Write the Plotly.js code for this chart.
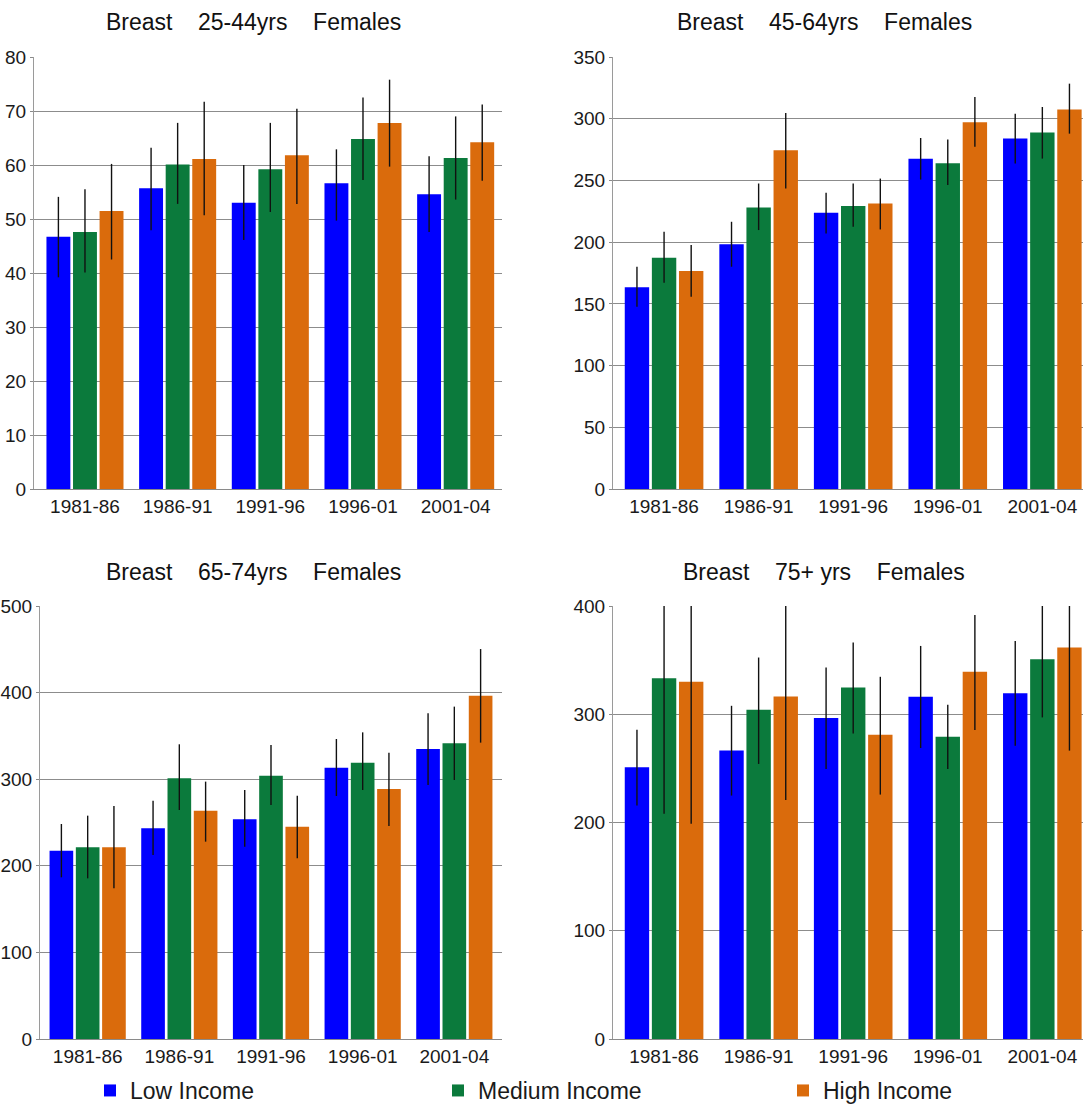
<!DOCTYPE html>
<html>
<head>
<meta charset="utf-8">
<script src="https://cdn.plot.ly/plotly-3.0.1.min.js"></script>
<style>html,body{margin:0;padding:0;background:#fff;}#chart{width:1083px;height:1112px;}</style>
</head>
<body>
<div id="chart"></div>
<script>
// ---- data ----
const categories = ['1981-86', '1986-91', '1991-96', '1996-01', '2001-04'];
const seriesNames = ['Low Income', 'Medium Income', 'High Income'];
const panelTitles = [
  'Breast\u00A0\u00A0\u00A0 25-44yrs\u00A0\u00A0\u00A0 Females',
  'Breast\u00A0\u00A0\u00A0 45-64yrs\u00A0\u00A0\u00A0 Females',
  'Breast\u00A0\u00A0\u00A0 65-74yrs\u00A0\u00A0\u00A0 Females',
  'Breast\u00A0\u00A0\u00A0 75+ yrs\u00A0\u00A0\u00A0 Females'
];
const yMax = [80, 350, 500, 400];
const yStep = [10, 50, 100, 100];

// rows: Low, Medium, High income
const rate_25_44  = [[46.7, 55.7, 53.0, 56.6, 54.6], [47.6, 60.1, 59.2, 64.8, 61.3], [51.5, 61.1, 61.8, 67.8, 64.2]];
const lower_25_44 = [[39.2, 47.9, 46.1, 49.7, 47.6], [40.1, 52.8, 51.3, 57.2, 53.6], [42.5, 50.7, 52.8, 59.7, 57.1]];
const upper_25_44 = [[54.1, 63.2, 60.0, 62.9, 61.6], [55.5, 67.8, 67.8, 72.5, 69.0], [60.2, 71.7, 70.4, 75.8, 71.2]];

const rate_45_64  = [[163.4, 198.2, 223.8, 267.5, 283.9], [187.4, 228.1, 229.2, 264.0, 288.8], [176.6, 274.5, 231.3, 297.1, 307.4]];
const lower_45_64 = [[147.7, 180.1, 207.1, 250.7, 263.7], [167.2, 209.8, 212.5, 246.2, 267.7], [155.8, 243.5, 210.3, 277.2, 287.9]];
const upper_45_64 = [[180.1, 216.5, 240.0, 284.4, 304.1], [208.4, 247.5, 247.5, 283.1, 309.5], [197.6, 304.7, 251.5, 317.6, 328.4]];

const rate_65_74  = [[217.5, 243.3, 253.7, 313.3, 334.9], [221.3, 301.0, 304.1, 319.1, 341.4], [221.3, 263.7, 245.2, 288.7, 396.5]];
const lower_65_74 = [[186.7, 212.5, 222.1, 280.6, 293.3], [185.5, 264.4, 270.2, 287.5, 299.1], [174.0, 227.9, 208.6, 246.0, 342.2]];
const upper_65_74 = [[248.3, 275.2, 287.5, 346.4, 376.1], [257.9, 340.3, 339.5, 354.1, 383.8], [269.1, 297.2, 281.0, 330.6, 450.3]];

const rate_75p  = [[251.0, 266.4, 296.5, 316.1, 319.5], [333.3, 304.1, 324.7, 279.3, 350.8], [330.0, 316.4, 281.1, 339.2, 361.6]];
const lower_75p = [[215.7, 224.9, 249.5, 268.8, 271.0], [208.0, 254.1, 282.3, 249.5, 297.1], [198.8, 220.9, 225.8, 285.4, 266.4]];
const upper_75p = [[285.7, 307.8, 343.2, 363.1, 367.7], [465.0, 352.4, 366.2, 308.8, 410.0], [470.0, 420.0, 334.6, 391.7, 460.0]];

// ---- styling ----
const colors = ['#0000FF', '#0B7A3C', '#DA6B0C'];
const FONT = 'Arial, "Liberation Sans", Helvetica, sans-serif';
const W = 1083, H = 1112;

const panels = [
  {rate: rate_25_44, lo: lower_25_44, hi: upper_25_44},
  {rate: rate_45_64, lo: lower_45_64, hi: upper_45_64},
  {rate: rate_65_74, lo: lower_65_74, hi: upper_65_74},
  {rate: rate_75p,   lo: lower_75p,   hi: upper_75p}
];

// pixel boxes of each plot area [left, right, top, bottom]
const boxes = [[34, 502, 57, 489], [613, 1083, 57, 489], [40, 502, 606, 1039], [613, 1083, 606, 1039]];
const xRanges = [[-0.55, 4.5], [-0.54, 4.43], [-0.52, 4.52], [-0.54, 4.43]];
const titlePos = [[253, 22], [824, 22], [253, 572], [824, 572]];
const legendNames = ['legend', 'legend2', 'legend3'];
const legendX = [90, 438, 783];

const traces = [];
panels.forEach((p, pi) => {
  const ax = pi === 0 ? '' : String(pi + 1);
  for (let s = 0; s < 3; s++) {
    traces.push({
      type: 'bar',
      name: seriesNames[s],
      x: categories,
      y: p.rate[s],
      xaxis: 'x' + ax,
      yaxis: 'y' + ax,
      marker: {color: colors[s], line: {width: 0}},
      error_y: {
        type: 'data', symmetric: false,
        array: p.hi[s].map((v, i) => v - p.rate[s][i]),
        arrayminus: p.rate[s].map((v, i) => v - p.lo[s][i]),
        color: '#111111', thickness: 1.4, width: 0
      },
      showlegend: pi === 0,
      legend: legendNames[s],
      legendgroup: seriesNames[s],
      hoverinfo: 'x+y'
    });
  }
});

const layout = {
  width: W, height: H,
  margin: {l: 0, r: 0, t: 0, b: 0},
  paper_bgcolor: '#ffffff',
  plot_bgcolor: '#ffffff',
  barmode: 'group',
  bargap: 0.14,
  bargroupgap: 0.1,
  font: {family: FONT, color: '#1a1a1a', size: 19},
  showlegend: true,
  annotations: []
};

legendNames.forEach((ln, i) => {
  layout[ln] = {
    orientation: 'h',
    x: legendX[i] / W, xanchor: 'left',
    y: 0, yanchor: 'bottom',
    font: {family: FONT, size: 23, color: '#1a1a1a'},
    bgcolor: 'rgba(0,0,0,0)',
    borderwidth: 0
  };
});

boxes.forEach((b, pi) => {
  const ax = pi === 0 ? '' : String(pi + 1);
  layout['xaxis' + ax] = {
    domain: [b[0] / W, b[1] / W],
    anchor: 'y' + ax,
    range: xRanges[pi],
    type: 'category',
    showline: true, linecolor: '#8a8a8a', linewidth: 1,
    ticks: '', showgrid: false, zeroline: false,
    tickfont: {family: FONT, size: 19, color: '#1a1a1a'},
    fixedrange: true
  };
  layout['yaxis' + ax] = {
    domain: [1 - b[3] / H, 1 - b[2] / H],
    anchor: 'x' + ax,
    range: [0, yMax[pi]],
    dtick: yStep[pi], tick0: 0,
    showline: true, linecolor: '#9a9a9a', linewidth: 1,
    ticks: 'outside', ticklen: 3, tickcolor: '#8a8a8a',
    showgrid: true, gridcolor: '#8c8c8c', gridwidth: 1,
    zeroline: false,
    tickfont: {family: FONT, size: 19, color: '#1a1a1a'},
    fixedrange: true
  };
  layout.annotations.push({
    text: panelTitles[pi],
    xref: 'paper', yref: 'paper',
    x: titlePos[pi][0] / W, y: 1 - titlePos[pi][1] / H,
    xanchor: 'center', yanchor: 'middle',
    showarrow: false,
    font: {family: FONT, size: 23, color: '#111111'}
  });
});

Plotly.newPlot('chart', traces, layout, {staticPlot: true, displayModeBar: false});
</script>
</body>
</html>
